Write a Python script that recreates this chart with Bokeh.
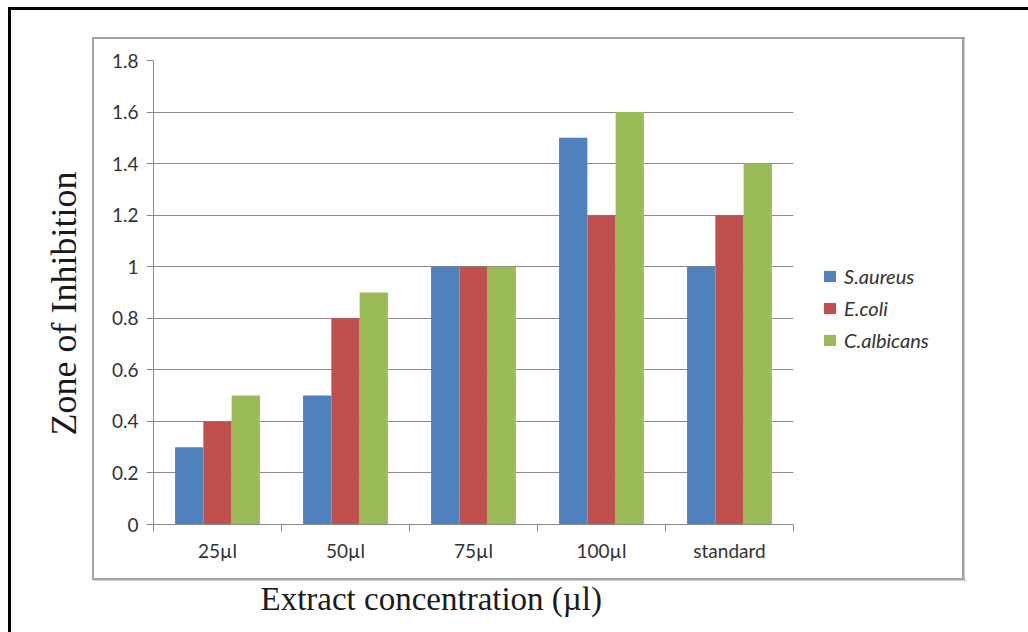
from bokeh.plotting import figure
from bokeh.models import (ColumnDataSource, FixedTicker, Legend, LegendItem, Title)
from bokeh.transform import dodge
from bokeh.embed import file_html
from bokeh.resources import INLINE

# ---- data ----
categories = ["25µl", "50µl", "75µl", "100µl", "standard"]
s_aureus = [0.3, 0.5, 1.0, 1.5, 1.0]
e_coli = [0.4, 0.8, 1.0, 1.2, 1.2]
c_albicans = [0.5, 0.9, 1.0, 1.6, 1.4]
series_names = ["S.aureus", "E.coli", "C.albicans"]
y_ticks = [0, 0.2, 0.4, 0.6, 0.8, 1.0, 1.2, 1.4, 1.6, 1.8]
y_tick_labels = ["0", "0.2", "0.4", "0.6", "0.8", "1", "1.2", "1.4", "1.6", "1.8"]
x_title = "Extract concentration (µl)"
y_title = "Zone of Inhibition"

colors = ["#4F81BD", "#C0504D", "#9BBB59"]
grid_gray = "#8a8a8a"
text_gray = "#333333"

xs = [i + 0.5 for i in range(len(categories))]
src = ColumnDataSource(dict(x=xs, a=s_aureus, b=e_coli, c=c_albicans))

p = figure(frame_width=640, frame_height=464,
           x_range=(0, len(categories)), y_range=(0, 1.8),
           output_backend="svg", toolbar_location=None,
           min_border_left=153, min_border_right=235, min_border_top=60,
           min_border_bottom=108)
p.outline_line_color = None
p.background_fill_color = "white"
p.border_fill_color = None

# page frame (black, top & left) and chart box (gray) drawn as CSS background
bg = ", ".join([
    "linear-gradient(#000,#000) 8px 7px / 1100px 3px no-repeat",
    "linear-gradient(#000,#000) 8px 7px / 3px 700px no-repeat",
    "linear-gradient(#a3a3a3,#a3a3a3) 92px 37px / 873px 2px no-repeat",
    "linear-gradient(#a3a3a3,#a3a3a3) 92px 578px / 873px 2px no-repeat",
    "linear-gradient(#d4d4d4,#d4d4d4) 94px 580px / 873px 1px no-repeat",
    "linear-gradient(#a3a3a3,#a3a3a3) 92px 37px / 2px 543px no-repeat",
    "linear-gradient(#a3a3a3,#a3a3a3) 962px 37px / 2px 543px no-repeat",
    "linear-gradient(#d4d4d4,#d4d4d4) 964px 39px / 1px 543px no-repeat",
    "#ffffff",
])
p.styles = {"background": bg}

bw = 0.221
r1 = p.vbar(x=dodge("x", -bw, range=p.x_range), top="a", width=bw, source=src,
            fill_color=colors[0], line_color=None)
r2 = p.vbar(x=dodge("x", 0, range=p.x_range), top="b", width=bw, source=src,
            fill_color=colors[1], line_color=None)
r3 = p.vbar(x=dodge("x", bw, range=p.x_range), top="c", width=bw, source=src,
            fill_color=colors[2], line_color=None)

# y axis
p.yaxis.ticker = FixedTicker(ticks=y_ticks)
p.yaxis.major_label_overrides = {t: l for t, l in zip(y_ticks, y_tick_labels)}
p.yaxis.major_tick_out = 7
p.yaxis.major_tick_in = 0
p.yaxis.minor_tick_line_color = None
p.yaxis.major_label_standoff = 8
p.yaxis.axis_line_color = grid_gray
p.yaxis.major_tick_line_color = grid_gray
p.yaxis.major_label_text_font = "Lato"
p.yaxis.major_label_text_font_size = "19px"
p.yaxis.major_label_text_color = text_gray

# x axis
p.xaxis.ticker = FixedTicker(ticks=xs, minor_ticks=list(range(len(categories) + 1)))
p.xaxis.major_label_overrides = {x: c for x, c in zip(xs, categories)}
p.xaxis.major_tick_out = 0
p.xaxis.major_tick_in = 0
p.xaxis.minor_tick_out = 7
p.xaxis.minor_tick_in = 0
p.xaxis.minor_tick_line_color = grid_gray
p.xaxis.major_label_standoff = 7
p.xaxis.axis_line_color = grid_gray
p.xaxis.major_label_text_font = "Lato"
p.xaxis.major_label_text_font_size = "19px"
p.xaxis.major_label_text_color = text_gray

p.xgrid.grid_line_color = None
p.ygrid.grid_line_color = grid_gray
p.ygrid.grid_line_width = 1

# axis titles
p.add_layout(Title(text=x_title, align="left", offset=107, standoff=29,
                   text_line_height=1.4,
                   text_font="Liberation Serif", text_font_size="33px",
                   text_font_style="normal", text_color="#1a1a1a"), "below")
p.add_layout(Title(text=y_title, align="left", offset=89, standoff=49,
                   text_font="Liberation Serif", text_font_size="36px",
                   text_font_style="normal", text_color="#1a1a1a"), "left")

legend = Legend(items=[LegendItem(label=series_names[0], renderers=[r1]),
                       LegendItem(label=series_names[1], renderers=[r2]),
                       LegendItem(label=series_names[2], renderers=[r3])],
                location=(29, 172), border_line_color=None, background_fill_alpha=0,
                glyph_width=15, glyph_height=14, label_height=20, spacing=8,
                padding=10, label_standoff=7,
                label_text_font="Lato", label_text_font_style="italic",
                label_text_font_size="20px", label_text_color=text_gray)
p.add_layout(legend, "right")

open("out.html", "w").write(file_html(p, INLINE))
